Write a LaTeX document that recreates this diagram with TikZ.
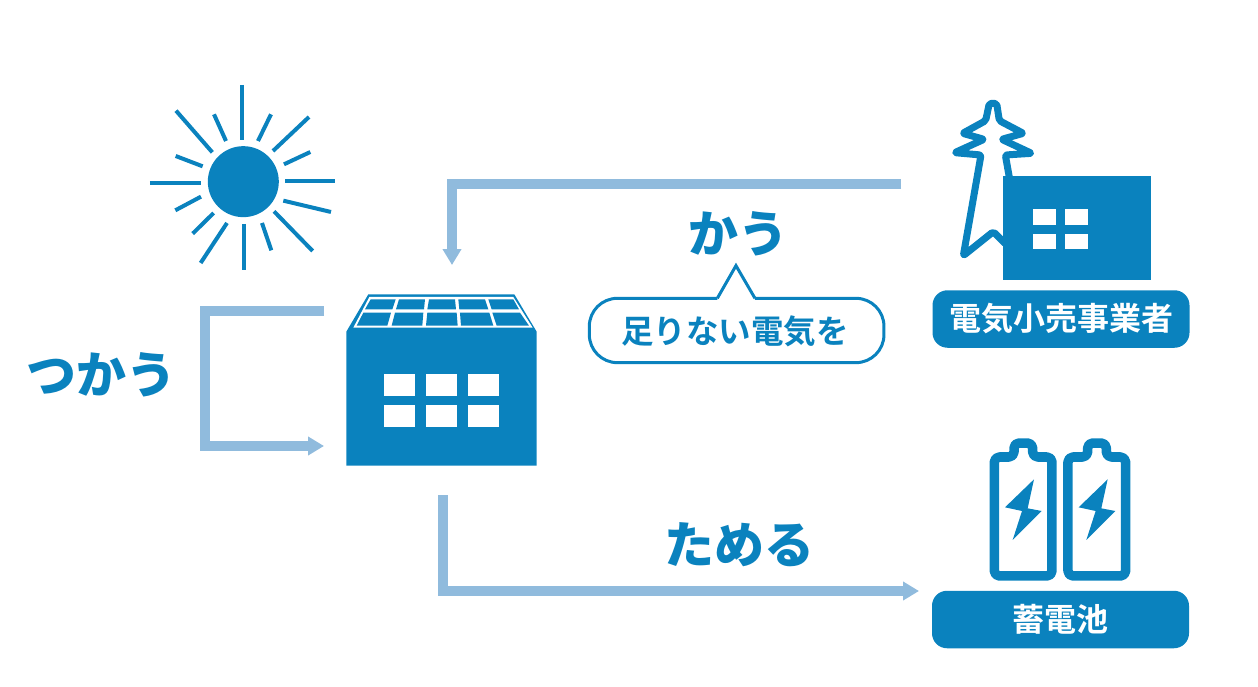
\documentclass[tikz,border=0pt]{standalone}
\usepackage{fontspec}
\usetikzlibrary{arrows.meta}
\setmainfont[BoldFont={Noto Sans CJK JP Bold}]{Noto Sans CJK JP}
\newfontfamily\heavyfont{Noto Sans CJK JP Black}
\definecolor{mainblue}{HTML}{0A82BE}
\definecolor{arrowblue}{HTML}{90BBDD}
\tikzset{
  flow/.style={draw=arrowblue,line width=10pt,-{Triangle[length=16pt,width=18pt]}},
  ray/.style={draw=mainblue,line width=4pt},
  hand/.style={text=mainblue,font=\heavyfont\fontsize{50}{50}\selectfont,inner sep=0pt},
  tag/.style={fill=mainblue,rounded corners=15pt,text=white,minimum width=257pt,minimum height=57.5pt,inner sep=0pt,font=\bfseries\fontsize{32}{32}\selectfont},
  win/.style={fill=white,draw=none},
  panel/.style={fill=mainblue,draw=none},
}
\begin{document}
\begin{tikzpicture}[x=1pt,y=-1pt]
\useasboundingbox (0,0) rectangle (1258,687);
% sun
\begin{scope}[shift={(130,70)},x=0.3333pt,y=-0.3333pt]
\fill[mainblue] (340,335) circle (35.5pt);
\foreach \a/\b/\c/\d in {336/45/336/210,138/122/247/247,252/133/288/213,423/133/384/213,537/141/429/243,541/246/462/283,137/258/218/289,60/339/213/339,615/332/465/332,603/426/460/392,213/380/136/421,251/429/188/491,291/459/212/579,342/462/342/600,396/459/424/541,432/424/548/543}
  \draw[ray] (\a,\b) -- (\c,\d);
\end{scope}
% house
\begin{scope}[shift={(330,280)},x=0.3333pt,y=-0.3333pt]
\fill[mainblue] (49,155) -- (115,43) -- (553,43) -- (620,155) -- (620,557) -- (49,557) -- cycle;
\fill[white] (118,51) -- (550,51) -- (608,143) -- (70,143) -- cycle;
\fill[panel] (122,58) -- (197,58) -- (187,88) -- (105,88) -- cycle;
\fill[panel] (207,58) -- (285,58) -- (282,88) -- (198,88) -- cycle;
\fill[panel] (297,58) -- (375,58) -- (378,88) -- (292,88) -- cycle;
\fill[panel] (385,58) -- (465,58) -- (475,88) -- (388,88) -- cycle;
\fill[panel] (475,58) -- (550,58) -- (567,88) -- (485,88) -- cycle;
\fill[panel] (100,98) -- (183,98) -- (172,137) -- (80,137) -- cycle;
\fill[panel] (195,98) -- (280,98) -- (277,137) -- (185,137) -- cycle;
\fill[panel] (292,98) -- (380,98) -- (383,137) -- (288,137) -- cycle;
\fill[panel] (390,98) -- (478,98) -- (490,137) -- (393,137) -- cycle;
\fill[panel] (487,98) -- (570,98) -- (597,137) -- (500,137) -- cycle;
\foreach \xa/\xb in {162/255,288/382,413/508}
  \foreach \ya/\yb in {282/347,375/441}
    \fill[win] (\xa,\ya) rectangle (\xb,\yb);
\end{scope}
% tower and office
\begin{scope}[shift={(920,90)},x=0.3333pt,y=-0.3333pt]
\draw[mainblue,line width=7pt,line join=round,line cap=round,rounded corners=2pt]
  (268,262) -- (256,195) -- (335,190) -- (245,148) -- (310,130) -- (238,92) -- (230,40) -- (208,40) -- (197,92) -- (128,130) -- (192,148) -- (104,188) -- (183,195) -- (130,497) -- (220,425) -- (255,460);
\fill[mainblue] (249,258) rectangle (693,570);
\foreach \xa/\xb in {338/408,435/505}
  \foreach \ya/\yb in {358/405,431/478}
    \fill[win] (\xa,\ya) rectangle (\xb,\yb);
\end{scope}
% batteries
\begin{scope}[shift={(920,430)},x=0.3333pt,y=-0.3333pt]
\foreach \s in {0,221}{
\begin{scope}[xshift=\s*0.3333pt]
\draw[mainblue,line width=9.5pt,rounded corners=5pt,line join=round]
  (223,438) -- (223,81) -- (282,81) -- (282,39) -- (338,39) -- (338,81) -- (396,81) -- (396,438) -- cycle;
\fill[mainblue] (342,148) -- (255,232) -- (306,243) -- (278,330) -- (365,243) -- (323,235) -- cycle;
\end{scope}}
\end{scope}
% labels
\node[tag] (retailer) at (1061,319) {電気小売事業者};
\node[tag] (battery) at (1060.5,619.5) {蓄電池};
% bubble
\begin{scope}[shift={(580,200)},x=0.3333pt,y=-0.3333pt]
\draw[mainblue,line width=3pt,fill=white,rounded corners=28pt]
  (412,295) -- (28,295) -- (28,488) -- (912,488) -- (912,295) -- (525,295);
\draw[mainblue,line width=3pt,line join=miter] (412,295) -- (468,197) -- (525,295);
\end{scope}
\node[text=mainblue,inner sep=0pt,font=\bfseries\fontsize{32.5}{32.5}\selectfont] (short) at (735,331) {足りない電気を};
\node[hand] (buy) at (738,234) {かう};
\node[hand] (use) at (101,375) {つかう};
\node[hand] (store) at (739,545) {ためる};
% flows
\coordinate (gridout) at (901,184);
\coordinate (housein) at (452,265);
\coordinate (useout) at (324,311);
\coordinate (usein) at (324,446);
\coordinate (storeout) at (443,495);
\coordinate (storein) at (919,591);
\draw[flow] (gridout) -| (housein);
\draw[flow] (useout) -- (205,311) -- (205,446) -- (usein);
\draw[flow] (storeout) |- (storein);
\end{tikzpicture}
\end{document}
